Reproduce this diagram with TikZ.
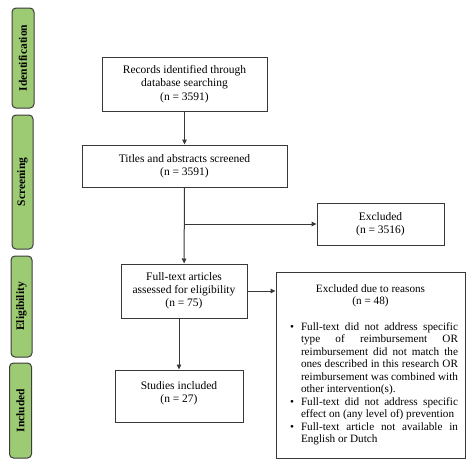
\documentclass[tikz,border=0pt]{standalone}
\usepackage{fontspec}
\setmainfont{Liberation Serif}
\usetikzlibrary{arrows.meta}
\definecolor{lab}{HTML}{9CCB74}
\definecolor{labline}{HTML}{3C3C3C}
\definecolor{ln}{HTML}{383838}
\begin{document}
\begin{tikzpicture}[x=1pt,y=-1pt,
  phase/.style={draw=labline,fill=lab,rounded corners=4pt,line width=1pt,inner sep=0pt},
  phasetext/.style={rotate=90,font=\fontsize{11.5}{12}\selectfont\bfseries,inner sep=0pt},
  box/.style={draw=ln,line width=1pt,align=center,inner sep=0pt,font=\fontsize{11.5}{13.2}\selectfont},
  conn/.style={draw=ln,line width=1pt,-{Triangle[length=5pt,width=4.5pt]}}]
\useasboundingbox[fill=white] (0,0) rectangle (474,469);
% phase labels
\node[phase,minimum width=22pt,minimum height=100pt] (pI) at (23,58) {};
\node[phasetext] (tI) at (pI.center) {Identification};
\node[phase,minimum width=21pt,minimum height=134pt] (pS) at (22.5,182) {};
\node[phasetext] (tS) at (pS.center) {Screening};
\node[phase,minimum width=21pt,minimum height=101pt] (pE) at (21.5,306.5) {};
\node[phasetext] (tE) at (pE.center) {Eligibility};
\node[phase,minimum width=22pt,minimum height=95pt] (pN) at (20.5,410.5) {};
\node[phasetext] (tN) at (pN.center) {Included};
% boxes
\node[box,minimum width=165pt,minimum height=54pt] (b1) at (184.5,84) {Records identified through\\database searching\\(n = 3591)};
\node[box,minimum width=205pt,minimum height=42pt] (b2) at (184.5,166) {Titles and abstracts screened\\(n = 3591)};
\node[box,minimum width=127pt,minimum height=42pt] (ex) at (380.5,224) {Excluded\\(n = 3516)};
\node[box,minimum width=126pt,minimum height=54pt] (b3) at (184,291) {Full-text articles\\assessed for eligibility\\(n = 75)};
\node[box,minimum width=128pt,minimum height=52pt,text depth=8pt] (b4) at (179,396) {Studies included\\(n = 27)};
\node[draw=ln,line width=1pt,inner xsep=7pt,inner ysep=0pt,minimum width=189pt,minimum height=186pt,
  text width=175pt,align=justify,font=\fontsize{11.2}{12.5}\selectfont] (rs) at (370.5,365) {%
  \hyphenpenalty=10000 \exhyphenpenalty=10000 \tolerance=10000
  {\centering Excluded due to reasons\\(n = 48)\par}
  \vspace{13pt}
  \begin{list}{\textbullet}{\setlength\leftmargin{18pt}\setlength\labelwidth{10pt}\setlength\labelsep{7pt}%
    \setlength\itemsep{0pt}\setlength\topsep{0pt}\setlength\parsep{0pt}\setlength\partopsep{0pt}}
  \item Full-text did not address specific\linebreak type of reimbursement OR\linebreak reimbursement did not match the\linebreak ones described in this research OR\linebreak reimbursement was combined with\linebreak other intervention(s).
  \item Full-text did not address specific\linebreak effect on (any level of) prevention
  \item Full-text article not available in\linebreak English or Dutch
  \end{list}};
% connectors
\draw[conn] (b1) -- (b2);
\draw[conn] (b2) -- (b3);
\coordinate (br) at (b2.south |- ex.west);
\draw[conn] (br) -- (ex.west);
\draw[conn] (b3.east) -- (b3.east -| rs.west);
\draw[conn] (b4.north |- b3.south) -- (b4.north);
\end{tikzpicture}
\end{document}
